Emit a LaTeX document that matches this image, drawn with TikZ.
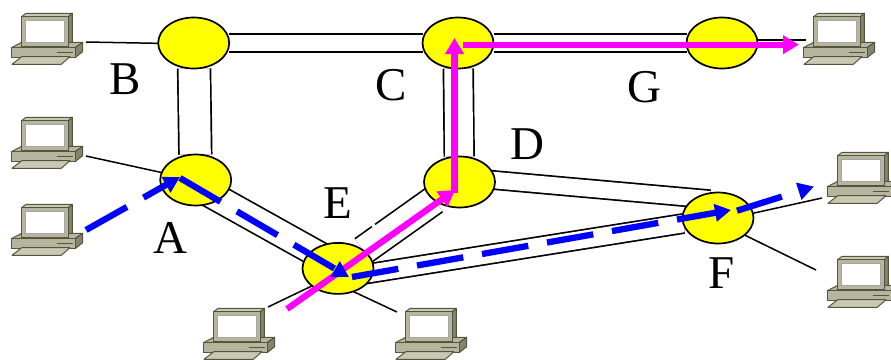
\documentclass[tikz,border=0pt]{standalone}
\usepackage{fontspec}
\setmainfont{Liberation Serif}
\usetikzlibrary{arrows.meta,backgrounds,shapes.geometric}
\definecolor{pcdark}{HTML}{55553F}
\definecolor{pcside}{HTML}{84846C}
\definecolor{pcbody}{HTML}{B6B69E}
\definecolor{pclight}{HTML}{C9C9B3}
\definecolor{routeryellow}{HTML}{FFFF00}
\definecolor{pathpink}{HTML}{FF00FF}
\definecolor{pathblue}{HTML}{0000FF}
\tikzset{
	router/.style={ellipse, draw=black, fill=routeryellow, line width=1.7pt, minimum width=71pt, minimum height=51pt, inner sep=0pt, outer sep=0pt},
	trunk/.style={draw=black, line width=1.7pt, double=white, double distance=#1},
	trunk/.default=16.5pt,
	access/.style={draw=black, line width=1.5pt},
	letter/.style={font=\fontsize{47}{47}\selectfont, inner sep=0pt},
	pathm/.style={draw=pathpink, line width=6.3pt, -{Triangle[length=16pt,width=18pt]}},
	pathb/.style={draw=pathblue, line width=6.3pt, dash pattern=on 47pt off 19pt, -{Triangle[length=16pt,width=17pt]}},
	pc/.pic={
		\begin{scope}[draw=pcdark, line width=1pt, line join=round]
			\filldraw[fill=pclight] (10.7,3.7) -- (15,0.3) -- (61.3,0.3) -- (57.3,3.7) -- cycle;
			\filldraw[fill=pcside] (57.3,3.7) -- (61.3,0.3) -- (61.3,28.7) -- (57.3,33) -- cycle;
			\filldraw[fill=pcbody] (0.3,34.7) -- (10.7,29.3) -- (71.7,29.3) -- (64,34.7) -- cycle;
			\filldraw[fill=pcside] (64,34.7) -- (71.7,29.3) -- (71.7,38.7) -- (64,44.7) -- cycle;
			\filldraw[fill=pcbody] (0.3,34.7) rectangle (64,44.7);
			\draw (45.7,39) -- (61.7,39);
			\filldraw[fill=pclight] (1,51.3) -- (10.7,43.7) -- (59,43.7) -- (50.3,51.3) -- cycle;
			\filldraw[fill=pcbody] (10.7,3.7) rectangle (57.3,33);
			\filldraw[draw=gray!70, fill=white] (14.7,7.7) rectangle (53,29.7);
		\end{scope}
	}
}
\begin{document}
\begin{tikzpicture}[x=1pt, y=-1pt]
	\useasboundingbox (0,0) rectangle (891,359);
	% computers
	\pic at (11,13) {pc};
	\pic at (11,117) {pc};
	\pic at (11,204) {pc};
	\pic at (803,13) {pc};
	\pic at (827,152) {pc};
	\pic at (827,256) {pc};
	\pic at (203,308) {pc};
	\pic at (395,308) {pc};
	% routers
	\node[router] (B) at (193.7,43) {};
	\node[router] (C) at (458,43) {};
	\node[router] (G) at (722,43) {};
	\node[router] (A) at (195.7,180) {};
	\node[router] (D) at (459.5,182) {};
	\node[router] (E) at (338,268.4) {};
	\node[router] (F) at (718,218) {};
	\node[letter] (lblB) at (125,79) {B};
	\node[letter] (lblC) at (391,85) {C};
	\node[letter] (lblG) at (644,87) {G};
	\node[letter] (lblD) at (527,144) {D};
	\node[letter] (lblE) at (338,203) {E};
	\node[letter] (lblA) at (170,238) {A};
	\node[letter] (lblF) at (722,273) {F};
	\coordinate (pcB) at (86,42);
	\coordinate (pcA) at (86,156);
	\coordinate (pcG) at (806,40);
	\coordinate (pcEl) at (268,307);
	\coordinate (pcEr) at (397,312);
	\coordinate (pcFt) at (822,198);
	\coordinate (pcFb) at (816,270);
	\begin{scope}[on background layer]
		\draw[trunk=31pt] (B) -- (A);
		\draw[trunk] (B) -- (C);
		\draw[trunk] (C) -- (G);
		\draw[trunk=28pt] (C) -- (D);
		\draw[trunk=25pt] ([yshift=-6pt]A.center) -- ([yshift=3pt]E.center);
		\draw[trunk=27pt] (E) -- (D);
		\draw[trunk=17.5pt] ([yshift=-10pt]E.center) -- (F);
		\draw[trunk, shorten >=8pt] ([yshift=5pt]D.center) -- ([yshift=18pt]F.center);
		\fill[white] (373.3,225.2) circle (2pt);
		\draw[access] ([yshift=-1pt]B.center) -- (pcB);
		\draw[access] (A) -- (pcA);
		\draw[access] ([yshift=3pt]G.center) -- (pcG);
		\draw[access] ([yshift=-5pt]E.center) -- (pcEl);
		\draw[access] ([yshift=-16pt]E.center) -- (pcEr);
		\draw[access] ([yshift=-3pt]F.center) -- (pcFt);
		\draw[access] ([yshift=-4pt]F.center) -- (pcFb);
	\end{scope}
	% paths
	\draw[pathm] (287,309) -- (455,190);
	\draw[pathm] (454.5,193) -- (454.5,38);
	\draw[pathm] (463,44.7) -- (799,44.7);
	\draw[pathb] (86,230) -- (180,177);
	\draw[pathb] (180,178) -- (349,277);
	\draw[pathb] (352,277) -- (731,210);
	\draw[pathb] (737,210.7) -- (814,186.5);
\end{tikzpicture}
\end{document}
